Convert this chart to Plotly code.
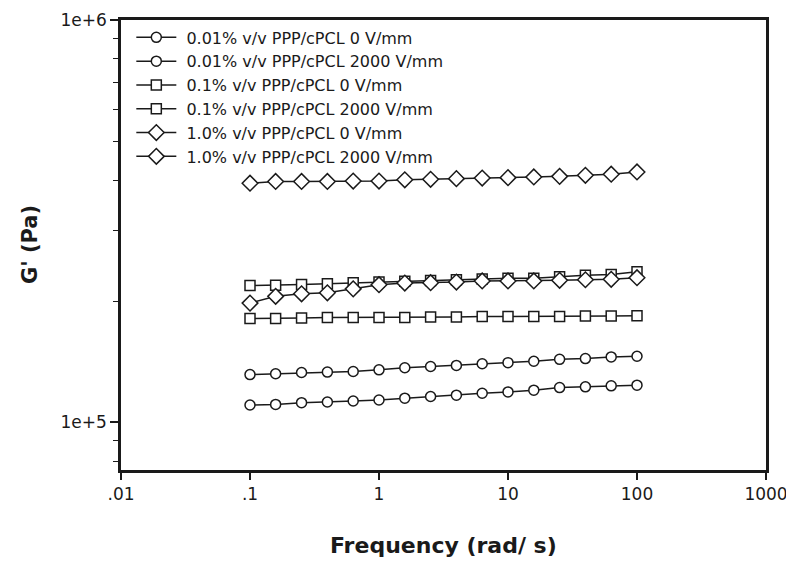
import plotly.graph_objects as go

freq = [0.1, 0.158, 0.251, 0.398, 0.631, 1.0, 1.585, 2.512, 3.981, 6.31, 10.0, 15.85, 25.12, 39.81, 63.1, 100.0]

g_001_0 = [110300, 110700, 111800, 112200, 112900, 113500, 114700, 115800, 116700, 118000, 118900, 120100, 121900, 122400, 123100, 123600]
g_001_2000 = [131300, 131900, 132900, 133200, 133600, 134900, 136500, 137500, 138400, 139700, 140600, 141700, 143300, 143900, 145300, 145800]
g_01_0 = [181000, 181000, 181500, 182000, 182000, 182000, 182000, 182500, 182500, 183000, 183000, 183000, 183000, 183500, 183500, 184000]
g_01_2000 = [218600, 219000, 220000, 221000, 222000, 223000, 224000, 225000, 226000, 227000, 228000, 228000, 230000, 232000, 233000, 236500]
g_10_0 = [197700, 205500, 208500, 209700, 214500, 219700, 221800, 222200, 223000, 224400, 224400, 224400, 225300, 226000, 226600, 228700]
g_10_2000 = [392900, 396700, 396700, 396700, 397600, 397600, 400600, 401600, 403200, 404600, 405500, 407100, 408500, 410900, 413500, 419000]

names = [
    "0.01% v/v PPP/cPCL 0 V/mm",
    "0.01% v/v PPP/cPCL 2000 V/mm",
    "0.1% v/v PPP/cPCL 0 V/mm",
    "0.1% v/v PPP/cPCL 2000 V/mm",
    "1.0% v/v PPP/cPCL 0 V/mm",
    "1.0% v/v PPP/cPCL 2000 V/mm",
]
series = [g_001_0, g_001_2000, g_01_0, g_01_2000, g_10_0, g_10_2000]
symbols = ["circle", "circle", "square", "square", "diamond", "diamond"]
sizes = [10, 10, 10, 10, 12, 12]

x_tickvals = [0.01, 0.1, 1, 10, 100, 1000]
x_ticktext = [".01", ".1", "1", "10", "100", "1000"]
y_tickvals = [1e5, 1e6]
y_ticktext = ["1e+5", "1e+6"]
y_minor = [80000, 90000, 200000, 300000, 400000, 500000, 600000, 700000, 800000, 900000]

INK = "#1a1a1a"
FONT = "DejaVu Sans, Verdana, sans-serif"

fig = go.Figure()
for name, ys, sym, sz in zip(names, series, symbols, sizes):
    fig.add_trace(go.Scatter(
        x=freq, y=ys, name="\u00a0" + name, mode="lines+markers",
        line=dict(color=INK, width=1.5),
        marker=dict(symbol=sym, size=sz, color="white", line=dict(color=INK, width=1.5)),
    ))

fig.update_layout(
    width=786, height=561, autosize=False,
    margin=dict(l=121, r=20, t=20, b=91, autoexpand=False),
    paper_bgcolor="white", plot_bgcolor="white",
    font=dict(family=FONT, color=INK, size=16),
    showlegend=True,
    legend=dict(
        x=0.016, y=0.999, xanchor="left", yanchor="top",
        bgcolor="rgba(0,0,0,0)", borderwidth=0,
        font=dict(size=16, family=FONT, color=INK),
        itemwidth=40,
    ),
    modebar=dict(bgcolor="rgba(0,0,0,0)", color="rgba(0,0,0,0)", activecolor="rgba(0,0,0,0)"),
    xaxis=dict(
        type="log", range=[-2, 3], automargin=False,
        tickmode="array", tickvals=x_tickvals, ticktext=x_ticktext,
        ticks="outside", ticklen=7, tickwidth=1.5, tickcolor=INK,
        showline=True, linewidth=2.5, linecolor=INK, mirror=True,
        showgrid=False, zeroline=False, ticklabeloverflow="allow",
        tickfont=dict(size=17, family=FONT, color=INK),
    ),
    yaxis=dict(
        type="log", range=[4.881, 6.0], automargin=False,
        tickmode="array", tickvals=y_tickvals, ticktext=y_ticktext,
        ticks="outside", ticklen=8, tickwidth=1.5, tickcolor=INK,
        minor=dict(tickmode="array", tickvals=y_minor, ticks="outside", ticklen=5, tickwidth=1.2, tickcolor=INK, showgrid=False),
        showline=True, linewidth=2.5, linecolor=INK, mirror=True,
        showgrid=False, zeroline=False,
        tickfont=dict(size=17, family=FONT, color=INK),
    ),
    annotations=[
        dict(text="<b>Frequency (rad/ s)</b>", x=0.5, y=-0.167, xref="paper", yref="paper",
             xanchor="center", yanchor="middle", showarrow=False,
             font=dict(size=22, family=FONT, color=INK)),
        dict(text="<b>G' (Pa)</b>", x=-0.141, y=0.5, xref="paper", yref="paper",
             xanchor="center", yanchor="middle", showarrow=False, textangle=-90,
             font=dict(size=21, family=FONT, color=INK)),
    ],
)

fig.write_html(
    "out.html",
    config={"displayModeBar": False, "responsive": False},
    post_script=(
        "document.body.style.margin='0';document.body.style.padding='0';"
        "document.body.style.overflow='hidden';document.documentElement.style.overflow='hidden';"
    ),
)
